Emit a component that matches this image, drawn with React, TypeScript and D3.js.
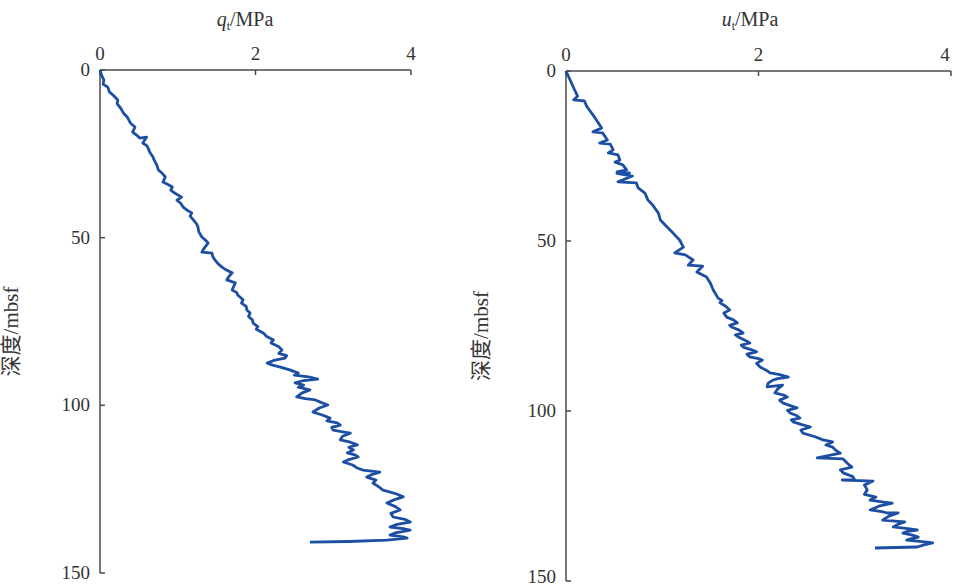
import React from "react";
import * as d3 from "d3";

// q_t profile: depth (mbsf) and value (MPa)
const qtDepth = [0, 1.5, 3, 4.2, 5.1, 6.5, 8.0, 9.0, 10, 11.5, 12.8, 14.0, 15.8, 17.0, 18.5, 19.4, 20.3, 20.0, 21.8, 22.5, 23.3, 24.5, 25.9, 27.0, 28.3, 29.8, 30.8, 31.9, 33.4, 34.2, 34.9, 35.8, 36.7, 37.9, 38.8, 39.8, 40.9, 41.8, 42.6, 43.6, 44.7, 45.8, 46.8, 48.2, 49.8, 50.8, 51.6, 52.5, 53.5, 54.3, 54.6, 55.6, 56.7, 57.8, 58.8, 59.6, 60.5, 61.5, 62.6, 63.5, 64.5, 65.6, 66.4, 67.1, 67.7, 68.5, 69.5, 70.5, 71.6, 72.5, 73.5, 74.5, 75.5, 76.5, 77.3, 78.4, 79.4, 80.5, 81.4, 82.5, 83.5, 84.5, 85.2, 85.9, 86.5, 87.4, 88.0, 88.6, 89.5, 90.4, 91.0, 91.5, 92.2, 92.6, 93.3, 94.0, 94.6, 95.4, 96.3, 97.5, 98.0, 98.4, 99.2, 99.9, 100.8, 102.0, 102.8, 103.8, 104.6, 105.2, 105.9, 106.6, 107.4, 107.9, 108.3, 109.2, 110.3, 111.0, 111.8, 112.5, 113.3, 114.2, 114.8, 115.4, 116.2, 116.9, 117.8, 118.6, 119.3, 119.9, 120.6, 121.4, 122.3, 123.2, 124.2, 125.3, 126.3, 127.3, 128.2, 129.1, 130.2, 131.2, 132.2, 133.3, 134.0, 134.8, 135.5, 136.3, 136.8, 137.2, 138.0, 138.7, 139.2, 139.6, 140.2, 140.6, 140.8];
const qtValue = [0, 0.02, 0.05, 0.04, 0.10, 0.12, 0.19, 0.23, 0.22, 0.27, 0.30, 0.35, 0.39, 0.45, 0.42, 0.47, 0.51, 0.60, 0.55, 0.60, 0.62, 0.64, 0.68, 0.70, 0.73, 0.75, 0.80, 0.84, 0.81, 0.88, 0.93, 0.91, 0.96, 1.05, 0.99, 1.04, 1.07, 1.12, 1.18, 1.16, 1.20, 1.24, 1.26, 1.27, 1.31, 1.36, 1.39, 1.36, 1.33, 1.31, 1.44, 1.45, 1.48, 1.52, 1.57, 1.62, 1.70, 1.66, 1.63, 1.74, 1.72, 1.70, 1.76, 1.77, 1.80, 1.84, 1.82, 1.88, 1.89, 1.93, 1.91, 1.96, 1.97, 2.03, 2.01, 2.10, 2.14, 2.23, 2.20, 2.30, 2.34, 2.30, 2.40, 2.38, 2.25, 2.15, 2.22, 2.32, 2.45, 2.55, 2.50, 2.68, 2.80, 2.62, 2.51, 2.62, 2.55, 2.70, 2.60, 2.53, 2.64, 2.77, 2.85, 2.93, 2.82, 2.74, 2.85, 2.96, 2.92, 3.05, 3.09, 2.98, 3.00, 3.12, 3.22, 3.12, 3.09, 3.22, 3.31, 3.20, 3.26, 3.18, 3.28, 3.32, 3.20, 3.13, 3.25, 3.30, 3.38, 3.60, 3.50, 3.43, 3.55, 3.51, 3.58, 3.64, 3.80, 3.90, 3.78, 3.69, 3.80, 3.86, 3.74, 3.77, 3.92, 3.99, 3.82, 3.73, 3.90, 3.99, 3.80, 3.73, 3.90, 3.95, 3.69, 3.20, 2.70];

// u_t profile: depth (mbsf) and value (MPa)
const utDepth = [0, 5.6, 7.4, 8.5, 8.8, 10.6, 12.9, 15.0, 16.8, 17.9, 18.2, 20.3, 21.2, 21.5, 23.2, 24.1, 24.7, 26.2, 26.8, 27.6, 29.1, 29.7, 30.0, 30.1, 30.9, 32.6, 32.9, 34.4, 35.9, 37.9, 39.4, 41.8, 43.8, 45.9, 47.6, 49.7, 51.8, 53.5, 54.1, 55.6, 57.1, 57.4, 59.1, 60.6, 62.4, 64.4, 66.8, 67.5, 68.2, 69.2, 70.3, 71.2, 72.4, 73.2, 74.1, 74.8, 75.3, 76.2, 77.1, 77.6, 78.2, 79.2, 80.0, 80.6, 81.2, 82.0, 82.6, 83.3, 84.1, 84.6, 85.0, 86.0, 87.1, 88.0, 88.8, 89.3, 90.0, 90.5, 90.9, 91.8, 92.9, 92.4, 93.5, 94.7, 95.3, 95.9, 96.8, 97.6, 98.4, 99.1, 99.8, 100.6, 101.4, 102.1, 102.6, 103.2, 104.0, 104.7, 105.6, 106.5, 107.5, 108.5, 109.1, 110.0, 110.6, 111.5, 112.4, 113.8, 114.1, 115.3, 116.5, 117.3, 118.2, 119.3, 120.3, 120.3, 120.6, 121.8, 123.2, 124.5, 125.3, 126.2, 126.8, 127.1, 128.0, 129.1, 129.6, 130.0, 130.0, 131.0, 132.1, 132.6, 133.3, 134.1, 134.6, 135.0, 135.4, 135.9, 136.5, 137.1, 137.6, 138.0, 138.4, 138.8, 139.4, 140.0, 140.3];
const utValue = [0, 0.09, 0.12, 0.08, 0.19, 0.22, 0.28, 0.33, 0.37, 0.28, 0.38, 0.43, 0.35, 0.46, 0.49, 0.44, 0.54, 0.56, 0.51, 0.59, 0.63, 0.53, 0.66, 0.53, 0.69, 0.54, 0.73, 0.75, 0.82, 0.85, 0.90, 0.96, 0.98, 1.05, 1.11, 1.18, 1.22, 1.13, 1.24, 1.32, 1.27, 1.42, 1.36, 1.46, 1.50, 1.53, 1.58, 1.62, 1.60, 1.66, 1.70, 1.64, 1.67, 1.74, 1.78, 1.70, 1.72, 1.80, 1.84, 1.76, 1.79, 1.86, 1.91, 1.82, 1.84, 1.93, 1.98, 1.88, 1.91, 2.00, 2.04, 1.98, 2.02, 2.08, 2.12, 2.22, 2.31, 2.20, 2.15, 2.10, 2.09, 2.25, 2.20, 2.17, 2.26, 2.30, 2.22, 2.25, 2.33, 2.40, 2.30, 2.33, 2.40, 2.43, 2.34, 2.36, 2.45, 2.54, 2.44, 2.46, 2.58, 2.67, 2.77, 2.70, 2.77, 2.80, 2.85, 2.61, 2.88, 2.92, 2.97, 2.85, 2.88, 2.98, 3.00, 2.87, 3.19, 3.10, 3.13, 3.10, 3.22, 3.16, 3.30, 3.39, 3.25, 3.16, 3.28, 3.34, 3.45, 3.35, 3.29, 3.52, 3.45, 3.40, 3.55, 3.65, 3.55, 3.50, 3.60, 3.66, 3.58, 3.54, 3.70, 3.81, 3.72, 3.65, 3.21];

const xTicks = [0, 2, 4];
const yTicks = [0, 50, 100, 150];

const SERIF = "'Liberation Serif', 'Times New Roman', serif";
const CJK = "'Liberation Serif', 'Noto Sans CJK SC', serif";
const AXIS = "#4a4a4a";
const LINE = "#1c4fa3";

type PanelProps = {
  x0: number; x1: number; y0: number; y1: number;
  depth: number[]; value: number[];
  sym: string; titleX: number; yTitleX: number;
};

function Panel({ x0, x1, y0, y1, depth, value, sym, titleX, yTitleX }: PanelProps) {
  const x = d3.scaleLinear().domain([0, 4]).range([x0, x1]);
  const y = d3.scaleLinear().domain([0, 150]).range([y0, y1]);
  const pts: [number, number][] = depth.map((d, i) => [value[i], d]);
  const line = d3.line<[number, number]>().x(p => x(p[0])).y(p => y(p[1]));
  return (
    <g>
      <text x={titleX} y={26} textAnchor="middle" fontFamily={SERIF} fontSize={20} fill="#333">
        <tspan fontStyle="italic">{sym}</tspan>
        <tspan fontSize={12} dy={4}>t</tspan>
        <tspan dy={-4}>/MPa</tspan>
      </text>
      <text transform={`translate(${yTitleX},${(y0 + y1) / 2 + 10}) rotate(-90)`} textAnchor="middle"
        fontFamily={CJK} fontSize={21} fill="#333">深度/mbsf</text>
      <line x1={x0} x2={x1} y1={y0} y2={y0} stroke={AXIS} strokeWidth={1.5} />
      <line x1={x0} x2={x0} y1={y0} y2={y1} stroke={AXIS} strokeWidth={1.5} />
      {xTicks.map(t => (
        <g key={"x" + t}>
          <line x1={x(t)} x2={x(t)} y1={y0} y2={y0 + 5} stroke={AXIS} strokeWidth={1.5} />
          <text x={Math.min(x(t), 945)} y={y0 - 10} textAnchor="middle" fontFamily={SERIF} fontSize={19} fill="#333">{t}</text>
        </g>
      ))}
      {yTicks.map(t => (
        <g key={"y" + t}>
          <line x1={x0} x2={x0 + 5} y1={y(t)} y2={y(t)} stroke={AXIS} strokeWidth={1.5} />
          <text x={x0 - 10} y={Math.min(y(t) + 6, 583)} textAnchor="end" fontFamily={SERIF} fontSize={19} fill="#333">{t}</text>
        </g>
      ))}
      <path d={line(pts) || ""} fill="none" stroke={LINE} strokeWidth={2.8} strokeLinejoin="round" />
    </g>
  );
}

export default function App() {
  return (
    <div style={{ position: "absolute", left: 0, top: 0 }}>
      <svg width={953} height={587} style={{ display: "block", background: "#fff" }}>
        <Panel x0={100} x1={411} y0={70} y1={573} depth={qtDepth} value={qtValue} sym="q" titleX={245} yTitleX={18} />
        <Panel x0={566} x1={951} y0={71} y1={581} depth={utDepth} value={utValue} sym="u" titleX={750} yTitleX={488} />
      </svg>
    </div>
  );
}
